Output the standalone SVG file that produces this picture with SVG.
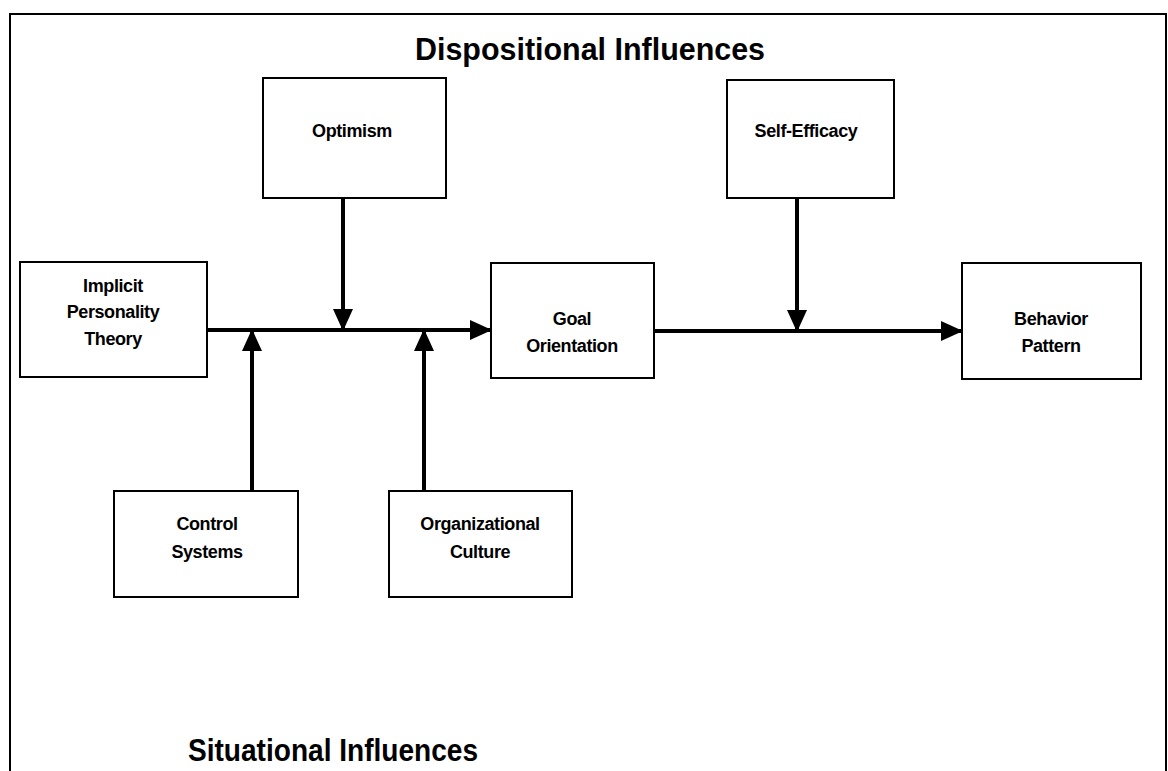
<svg xmlns="http://www.w3.org/2000/svg" width="1168" height="771" viewBox="0 0 1168 771">
<style>
.box{fill:#fff;stroke:#000;stroke-width:2}
.lbl{font-family:"Liberation Sans",Arial,sans-serif;font-weight:bold;font-size:18px;letter-spacing:-0.4px;text-anchor:middle;fill:#000}
.title{font-family:"Liberation Sans",Arial,sans-serif;font-weight:bold;font-size:32px;fill:#000}
.conn{stroke:#000;stroke-width:4;fill:none}
</style>
<defs>
<marker id="ah" markerUnits="userSpaceOnUse" markerWidth="22" markerHeight="22" refX="21" refY="10" orient="auto" viewBox="0 0 22 20">
<path d="M0,0 L22,10 L0,20 Z" fill="#000"/>
</marker>
</defs>
<rect width="1168" height="771" fill="#fff"/>
<path d="M10,771 V14 H1166 V771" fill="none" stroke="#000" stroke-width="2"/>
<text class="title" x="415" y="60" textLength="350" lengthAdjust="spacingAndGlyphs">Dispositional Influences</text>
<text class="title" x="188" y="761" textLength="290" lengthAdjust="spacingAndGlyphs">Situational Influences</text>
<g id="connectors">
<line class="conn" x1="207" y1="330" x2="491" y2="330" marker-end="url(#ah)"/>
<line class="conn" x1="343" y1="198" x2="343" y2="330" marker-end="url(#ah)"/>
<line class="conn" x1="252" y1="491" x2="252" y2="330" marker-end="url(#ah)"/>
<line class="conn" x1="424" y1="491" x2="424" y2="330" marker-end="url(#ah)"/>
<line class="conn" x1="654" y1="331" x2="962" y2="331" marker-end="url(#ah)"/>
<line class="conn" x1="797" y1="198" x2="797" y2="331" marker-end="url(#ah)"/>
</g>
<g id="optimism">
<rect class="box" x="263" y="78" width="183" height="120"/>
<text class="lbl" x="352" y="137">Optimism</text>
</g>
<g id="self-efficacy">
<rect class="box" x="727" y="80" width="167" height="118"/>
<text class="lbl" x="806" y="137">Self-Efficacy</text>
</g>
<g id="implicit">
<rect class="box" x="20" y="262" width="187" height="115"/>
<text class="lbl" x="113" y="292">Implicit</text>
<text class="lbl" x="113" y="318">Personality</text>
<text class="lbl" x="113" y="345">Theory</text>
</g>
<g id="goal">
<rect class="box" x="491" y="263" width="163" height="115"/>
<text class="lbl" x="572" y="325">Goal</text>
<text class="lbl" x="572" y="352">Orientation</text>
</g>
<g id="behavior">
<rect class="box" x="962" y="263" width="179" height="116"/>
<text class="lbl" x="1051" y="325">Behavior</text>
<text class="lbl" x="1051" y="352">Pattern</text>
</g>
<g id="control">
<rect class="box" x="114" y="491" width="184" height="106"/>
<text class="lbl" x="207" y="530">Control</text>
<text class="lbl" x="207" y="558">Systems</text>
</g>
<g id="culture">
<rect class="box" x="389" y="491" width="183" height="106"/>
<text class="lbl" x="480" y="530">Organizational</text>
<text class="lbl" x="480" y="558">Culture</text>
</g>
</svg>
